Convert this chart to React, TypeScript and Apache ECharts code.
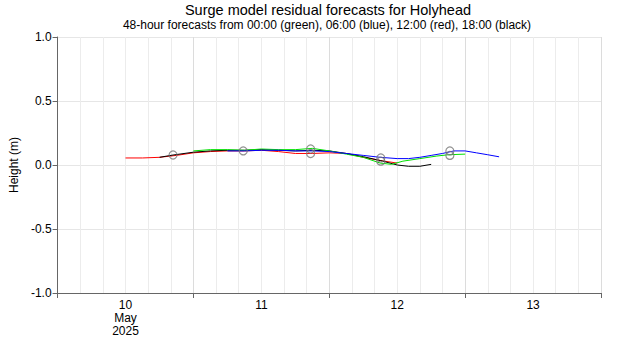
import React, { useEffect, useRef } from "react";
import * as echarts from "echarts";

// hours since 10 May 2025 00:00
const redHours = [12, 15, 18, 21, 24, 27, 30, 33, 36, 39, 42, 45, 48, 51, 54, 57, 60];
const redValues = [0.055, 0.055, 0.06, 0.075, 0.095, 0.105, 0.11, 0.11, 0.115, 0.105, 0.09, 0.09, 0.095, 0.09, 0.06, 0.035, 0.015];

const blackHours = [18, 20.4, 24, 27, 30, 33, 36, 39, 42, 45, 48, 51, 54, 57, 60, 62, 64, 66];
const blackValues = [0.06, 0.078, 0.1, 0.11, 0.115, 0.115, 0.12, 0.115, 0.11, 0.115, 0.11, 0.09, 0.065, 0.035, 0.0, -0.01, -0.01, 0.005];

const greenHours = [24, 27, 30, 33, 36, 39, 42, 45, 48, 51, 54, 57, 59, 61, 64, 67, 69, 72];
const greenValues = [0.11, 0.12, 0.12, 0.115, 0.125, 0.12, 0.12, 0.13, 0.11, 0.085, 0.06, 0.015, 0.005, 0.03, 0.05, 0.07, 0.08, 0.085];

const blueHours = [30, 33, 36, 39, 42, 45, 48, 51, 54, 57, 60, 62, 64, 66, 68, 70, 72, 74, 76, 78];
const blueValues = [0.11, 0.11, 0.115, 0.115, 0.11, 0.11, 0.105, 0.09, 0.075, 0.06, 0.05, 0.05, 0.06, 0.075, 0.09, 0.11, 0.11, 0.095, 0.08, 0.064];

// high water markers
const hwHours = [20.4, 32.8, 44.7, 44.7, 57.1, 57.1, 69.3, 69.3];
const hwValues = [0.078, 0.11, 0.125, 0.09, 0.055, 0.03, 0.11, 0.075];

const dayTickHours = [0, 24, 48, 72, 96];
const dayLabelHours = [12, 36, 60, 84];
const dayLabels = ["10\nMay\n2025", "11", "12", "13"];

const yTicks = [-1.0, -0.5, 0.0, 0.5, 1.0];

const zip = (xs: number[], ys: number[]) => xs.map((x, i) => [x, ys[i]]);

export default function App() {
  const ref = useRef<HTMLDivElement>(null);
  useEffect(() => {
    if (!ref.current) return;
    const chart = echarts.init(ref.current, null, { renderer: "svg" });
    const font = "Liberation Sans, Arial, sans-serif";
    const lineSeries = (data: number[][], color: string) => ({
      type: "line",
      data,
      xAxisIndex: 0,
      showSymbol: false,
      symbol: "none",
      lineStyle: { color, width: 1 },
      z: 3,
    });
    chart.setOption({
      animation: false,
      textStyle: { fontFamily: font },
      title: [
        {
          text: "Surge model residual forecasts for Holyhead",
          left: 328,
          top: 2,
          padding: 0,
          textAlign: "center",
          textStyle: { fontSize: 14.5, lineHeight: 16, fontWeight: "normal", color: "#000", fontFamily: font },
        },
        {
          text: "48-hour forecasts from 00:00 (green), 06:00 (blue), 12:00 (red), 18:00 (black)",
          left: 327,
          top: 18,
          padding: 0,
          textAlign: "center",
          textStyle: { fontSize: 12, lineHeight: 13, fontWeight: "normal", color: "#000", fontFamily: font },
        },
      ],
      grid: { left: 56, right: 19, top: 37, bottom: 57, containLabel: false },
      xAxis: [
        {
          type: "value",
          min: 0,
          max: 96,
          interval: 4,
          axisLine: { show: false },
          axisTick: { show: false },
          axisLabel: { show: false },
          splitLine: { show: true, lineStyle: { color: "#ececec", width: 1 } },
        },
        {
          type: "value",
          min: 0,
          max: 96,
          interval: 24,
          position: "bottom",
          axisLine: { show: true, onZero: false, lineStyle: { color: "#666" } },
          axisTick: { show: true, length: 5, lineStyle: { color: "#666" }, customValues: dayTickHours },
          axisLabel: {
            show: true,
            color: "#000",
            fontSize: 12,
            lineHeight: 13,
            margin: 5,
            customValues: dayLabelHours,
            formatter: (v: number) => {
              const i = dayLabelHours.indexOf(v);
              return i >= 0 ? dayLabels[i] : "";
            },
          },
          splitLine: { show: true, lineStyle: { color: "#dcdcdc", width: 1 } },
        },
      ],
      yAxis: {
        type: "value",
        min: -1,
        max: 1,
        interval: 0.5,
        name: "Height (m)",
        nameLocation: "middle",
        nameGap: 32,
        nameTextStyle: { color: "#000", fontSize: 12 },
        axisLine: { show: true, lineStyle: { color: "#666" } },
        axisTick: { show: true, length: 5, lineStyle: { color: "#666" } },
        axisLabel: {
          color: "#000",
          fontSize: 12,
          margin: 6,
          formatter: (v: number) => {
            const t = yTicks.find((y) => Math.abs(y - v) < 1e-6);
            return (t !== undefined ? t : v).toFixed(1);
          },
        },
        splitLine: { show: true, lineStyle: { color: "#e6e6e6" } },
      },
      series: [
        lineSeries(zip(redHours, redValues), "#ff0000"),
        lineSeries(zip(blackHours, blackValues), "#000000"),
        lineSeries(zip(greenHours, greenValues), "#00e000"),
        lineSeries(zip(blueHours, blueValues), "#0000ff"),
        {
          type: "scatter",
          data: zip(hwHours, hwValues),
          symbol: "circle",
          symbolSize: 8,
          itemStyle: { color: "rgba(0,0,0,0)", borderColor: "#777", borderWidth: 1.2 },
          z: 5,
        },
      ],
    });
    return () => chart.dispose();
  }, []);
  return <div ref={ref} style={{ position: "absolute", left: 0, top: 0, width: 620, height: 350 }} />;
}
